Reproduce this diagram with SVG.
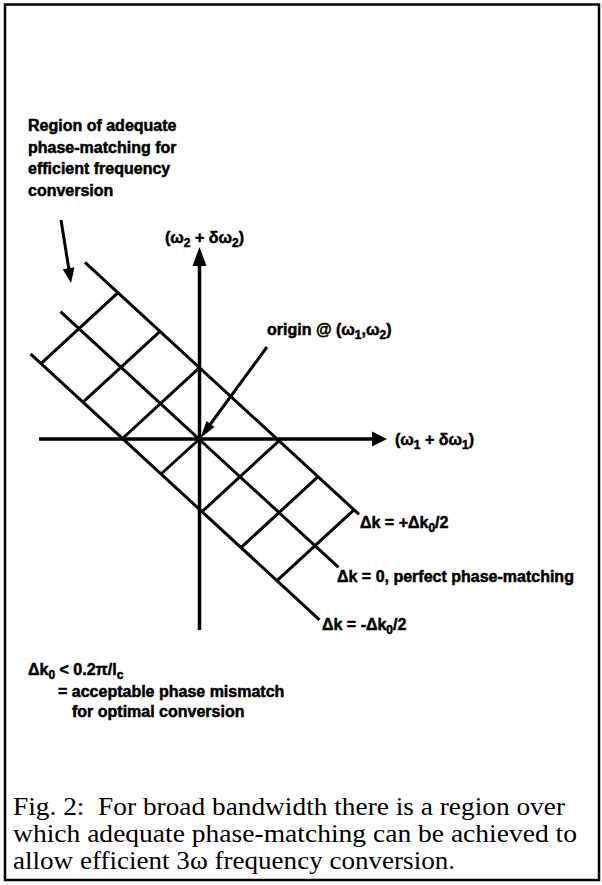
<svg xmlns="http://www.w3.org/2000/svg" width="602" height="885" viewBox="0 0 602 885">
<style>
.lbl{font-family:"Liberation Sans",Arial,sans-serif;font-weight:bold;font-size:16px;fill:#000;stroke:#000;stroke-width:0.5}
.sub{font-size:12px}
.cap{font-family:"Liberation Serif","Times New Roman",serif;font-size:24.2px;fill:#000}
.ln{stroke:#000;stroke-width:3;fill:none}
.ax{stroke:#000;stroke-width:3.5;fill:none}
.ah{fill:#000;stroke:none}
</style>
<rect width="602" height="885" fill="#fff"/>
<rect id="frame" x="5" y="4.5" width="594" height="875.5" fill="none" stroke="#000" stroke-width="2.5"/>
<g id="connectors">
  <g id="axes">
    <line class="ax" x1="199.5" y1="630" x2="199.5" y2="262"/>
    <polygon class="ah" points="199.5,247 192.5,266 206.5,266"/>
    <line class="ax" x1="39" y1="439" x2="374" y2="439"/>
    <polygon class="ah" points="387,439 372,431.5 372,446.5"/>
  </g>
  <g id="phase-lines">
    <line class="ln" x1="85" y1="262.4" x2="359" y2="514.4"/>
    <line class="ln" x1="60.5" y1="311.6" x2="338.5" y2="567.3"/>
    <line class="ln" x1="30.5" y1="353.9" x2="319.5" y2="619.8"/>
  </g>
  <g id="cross-lines">
    <line class="ln" x1="41" y1="363.6" x2="118" y2="292.7"/>
    <line class="ln" x1="83" y1="402.2" x2="160" y2="331.4"/>
    <line class="ln" x1="122.5" y1="438.5" x2="199.5" y2="367.7"/>
    <line class="ln" x1="161" y1="474" x2="199.5" y2="439"/>
    <line class="ln" x1="202" y1="511.7" x2="279" y2="440.8"/>
    <line class="ln" x1="241" y1="547.6" x2="318" y2="476.7"/>
    <line class="ln" x1="277" y1="580.7" x2="354" y2="509.8"/>
  </g>
  <g id="region-arrow">
    <line class="ln" x1="61" y1="220" x2="69" y2="270"/>
    <polygon class="ah" points="71,283 62.7,269.2 74.5,267.3"/>
  </g>
  <g id="origin-arrow">
    <line class="ln" x1="267" y1="347" x2="209" y2="426"/>
    <polygon class="ah" points="200.5,438 206.5,421 214.5,427"/>
  </g>
</g>
<g id="label-region">
  <text class="lbl" x="28" y="131">Region of adequate</text>
  <text class="lbl" x="28" y="153">phase-matching for</text>
  <text class="lbl" x="28" y="174">efficient frequency</text>
  <text class="lbl" x="28" y="196">conversion</text>
</g>
<g id="label-omega2">
  <text class="lbl" x="165" y="243">(ω<tspan class="sub" dy="4">2</tspan><tspan dy="-4"> + δω</tspan><tspan class="sub" dy="4">2</tspan><tspan dy="-4">)</tspan></text>
</g>
<g id="label-origin">
  <text class="lbl" x="267" y="335">origin @ (ω<tspan class="sub" dy="4">1</tspan><tspan dy="-4">,ω</tspan><tspan class="sub" dy="4">2</tspan><tspan dy="-4">)</tspan></text>
</g>
<g id="label-omega1">
  <text class="lbl" x="395" y="445">(ω<tspan class="sub" dy="4">1</tspan><tspan dy="-4"> + δω</tspan><tspan class="sub" dy="4">1</tspan><tspan dy="-4">)</tspan></text>
</g>
<g id="label-plus">
  <text class="lbl" x="360" y="528">Δk = +Δk<tspan class="sub" dy="4">0</tspan><tspan dy="-4">/2</tspan></text>
</g>
<g id="label-zero">
  <text class="lbl" x="337" y="582">Δk = 0, perfect phase-matching</text>
</g>
<g id="label-minus">
  <text class="lbl" x="322" y="630">Δk = -Δk<tspan class="sub" dy="4">0</tspan><tspan dy="-4">/2</tspan></text>
</g>
<g id="label-tolerance">
  <text class="lbl" x="28" y="675">Δk<tspan class="sub" dy="4">0</tspan><tspan dy="-4"> &lt; 0.2π/l</tspan><tspan class="sub" dy="4">c</tspan></text>
  <text class="lbl" x="58" y="697">= acceptable phase mismatch</text>
  <text class="lbl" x="72" y="717">for optimal conversion</text>
</g>
<g id="caption">
  <text class="cap" x="13" y="815" textLength="552" lengthAdjust="spacingAndGlyphs" xml:space="preserve">Fig. 2:  For broad bandwidth there is a region over</text>
  <text class="cap" x="13" y="842" textLength="564" lengthAdjust="spacingAndGlyphs">which adequate phase-matching can be achieved to</text>
  <text class="cap" x="13" y="869" textLength="442" lengthAdjust="spacingAndGlyphs">allow efficient 3ω frequency conversion.</text>
</g>
</svg>
